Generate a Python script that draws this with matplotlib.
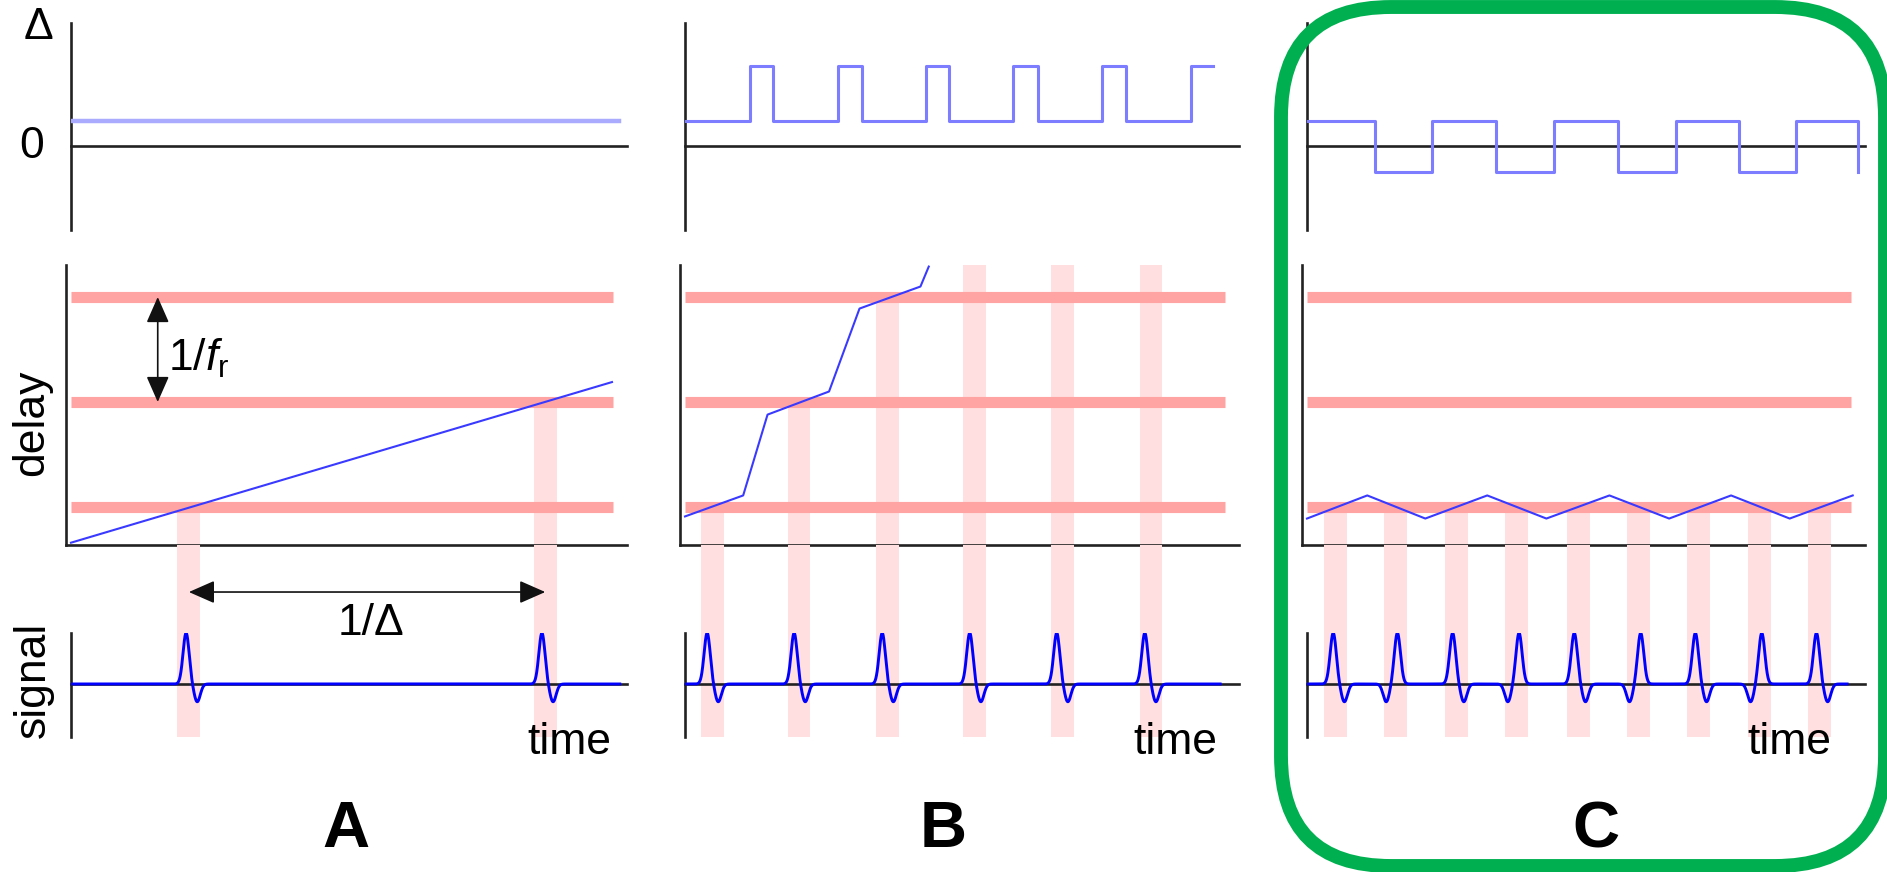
import numpy as np
import matplotlib
matplotlib.use("Agg")
import matplotlib.pyplot as plt
from matplotlib.patches import Rectangle, FancyBboxPatch, ArrowStyle
from matplotlib.transforms import blended_transform_factory

plt.rcParams['font.family'] = ['Liberation Sans', 'DejaVu Sans']
plt.rcParams['mathtext.fontset'] = 'custom'
plt.rcParams['mathtext.rm'] = 'Liberation Sans'
plt.rcParams['mathtext.it'] = 'Liberation Sans:italic'

# ---- data (time axis runs 0..100 in every column) ----
# detuning Delta(t)
delta_A_t = [0, 98.6]
delta_A = [1.0, 1.0]
delta_B_t = [0, 11.7, 15.9, 27.6, 31.9, 43.5, 47.7, 59.2, 63.7, 75.3, 79.6, 91.3, 95.3]
delta_B = [1, 3.2, 1, 3.2, 1, 3.2, 1, 3.2, 1, 3.2, 1, 3.2, 3.2]
delta_C_t = [0, 12.1, 22.4, 33.9, 44.2, 55.7, 66.1, 77.4, 87.7, 98.8]
delta_C = [1, -1.05, 1, -1.05, 1, -1.05, 1, -1.05, 1, -1.05]

# pulse-to-pulse delay (units of 1/f_r)
delay_A_t = [0, 97.3]
delay_A = [0.66, 2.19]
delay_B_t = [0, 10.5, 14.9, 26.0, 31.5, 42.5, 44.0]
delay_B = [0.91, 1.11, 1.88, 2.10, 2.89, 3.10, 3.29]
delay_C_t = [0, 10.8, 21.2, 32.3, 42.9, 54.2, 64.9, 76.0, 86.5, 97.8]
delay_C = [0.89, 1.11, 0.89, 1.11, 0.89, 1.11, 0.89, 1.11, 0.89, 1.11]
rep_levels = [1, 2, 3]

# sampling instants (vertical bands) and the delay level they start from
band_A_t = [21.2, 85.3]
band_A_from = [1, 2]
band_B_t = [4.9, 20.6, 36.6, 52.2, 68.2, 84.1]
band_B_from = [1, 2, 3, 3.31, 3.31, 3.31]
band_C_t = [5.1, 15.8, 26.8, 37.5, 48.6, 59.4, 70.2, 81.1, 91.9]
band_C_from = [1, 1, 1, 1, 1, 1, 1, 1, 1]

# signal pulses: peak times and polarity order
pulse_A_t = [20.7, 84.7]
pulse_A_dir = [1, 1]
pulse_B_t = [4.0, 19.7, 35.6, 51.4, 67.1, 83.0]
pulse_B_dir = [1, 1, 1, 1, 1, 1]
pulse_C_t = [4.7, 16.2, 26.1, 38.0, 47.9, 59.8, 69.6, 81.5, 91.3]
pulse_C_dir = [1, -1, 1, -1, 1, -1, 1, -1, 1]
signal_end = [98.7, 96.6, 96.8]

time_label_x = [0.82, 0.809, 0.789]
panel_labels = ['A', 'B', 'C']

cols = [
    dict(d_t=delta_A_t, d=delta_A, dl_t=delay_A_t, dl=delay_A, b_t=band_A_t, b_from=band_A_from,
         p_t=pulse_A_t, p_dir=pulse_A_dir, delta_color='#aaaaff', delta_lw=3.2),
    dict(d_t=delta_B_t, d=delta_B, dl_t=delay_B_t, dl=delay_B, b_t=band_B_t, b_from=band_B_from,
         p_t=pulse_B_t, p_dir=pulse_B_dir, delta_color='#7d7dff', delta_lw=2.2),
    dict(d_t=delta_C_t, d=delta_C, dl_t=delay_C_t, dl=delay_C, b_t=band_C_t, b_from=band_C_from,
         p_t=pulse_C_t, p_dir=pulse_C_dir, delta_color='#7d7dff', delta_lw=2.2),
]

# ---- layout (pixels) ----
W, H = 1887, 872
fig = plt.figure(figsize=(W / 100, H / 100), dpi=100)

col_left = [71, 685, 1307]
col_right = [627, 1239, 1865]
top_y = (23, 230)
delay_y = (265, 545)
sig_y = (633, 737)

DELAY_LIM = (0.638, 3.305)
TOP_LIM = (-3.36, 4.92)
SIG_LIM = (-1.04, 1.0)
band_w = 4.1

AXC = '#222222'
RED = '#ffa3a3'
PINK = '#ffdfdf'
FS = 32


def box(x0, y0, x1, y1):
    return [x0 / W, 1 - y1 / H, (x1 - x0) / W, (y1 - y0) / H]


def clean(ax, zero_axis=False):
    for s in ['top', 'right']:
        ax.spines[s].set_visible(False)
    for s in ['left', 'bottom']:
        ax.spines[s].set_color(AXC)
        ax.spines[s].set_linewidth(1.9)
    if zero_axis:
        ax.spines['bottom'].set_position(('data', 0))
    ax.set_xticks([])
    ax.set_yticks([])
    ax.patch.set_visible(False)


def pulse_train(t, peaks, dirs, sigma=0.55, lag=2.0, neg=0.35):
    s = np.zeros_like(t)
    for p, d in zip(peaks, dirs):
        s += np.exp(-0.5 * ((t - p) / sigma) ** 2)
        s -= neg * np.exp(-0.5 * ((t - p - d * lag) / sigma) ** 2)
    return s


for i, c in enumerate(cols):
    x0, x1 = col_left[i], col_right[i]
    unit = (x1 - x0) / 100.0

    # detuning panel
    ax_d = fig.add_axes(box(x0, top_y[0], x1, top_y[1]))
    clean(ax_d, zero_axis=True)
    ax_d.set_xlim(0, 100)
    ax_d.set_ylim(*TOP_LIM)
    ax_d.plot(c['d_t'], c['d'], drawstyle='steps-post', color=c['delta_color'],
              lw=c['delta_lw'], zorder=3)

    # delay panel (axis drawn a few pixels left of the others)
    ax_l = fig.add_axes(box(x0 - 5, delay_y[0], x1, delay_y[1]))
    clean(ax_l)
    ax_l.set_xlim(-5 / unit, 100)
    ax_l.set_ylim(*DELAY_LIM)
    ax_l.hlines(rep_levels, 0, 97.5, colors=RED, lw=8, zorder=2, capstyle='butt')
    for bt, bf in zip(c['b_t'], c['b_from']):
        ax_l.add_patch(Rectangle((bt - band_w / 2, DELAY_LIM[0]), band_w, bf - DELAY_LIM[0],
                                 facecolor=PINK, edgecolor='none', zorder=1))
    ax_l.plot(c['dl_t'], c['dl'], color='#3a3aff', lw=1.5, zorder=3, clip_on=False)

    # signal panel
    ax_s = fig.add_axes(box(x0, sig_y[0], x1, sig_y[1]))
    clean(ax_s, zero_axis=True)
    ax_s.set_xlim(0, 100)
    ax_s.set_ylim(*SIG_LIM)
    gap = (sig_y[0] - delay_y[1]) / (sig_y[1] - sig_y[0])
    for bt in c['b_t']:
        ax_s.axvspan(bt - band_w / 2, bt + band_w / 2, ymin=0, ymax=1 + gap,
                     facecolor=PINK, edgecolor='none', zorder=0, clip_on=False)
    t = np.linspace(0, signal_end[i], 4000)
    ax_s.plot(t, pulse_train(t, c['p_t'], c['p_dir']), color='#0000ff', lw=2.1, zorder=3)
    ax_s.text(time_label_x[i], -0.163, 'time', transform=ax_s.transAxes,
              fontsize=FS, ha='left', va='baseline')

    # panel letter
    fig.text([346, 943, 1596][i] / W, 1 - 847 / H, panel_labels[i], fontsize=47,
             fontweight='bold', ha='center', va='baseline')

    if i == 0:
        ax_d.text(-0.059, 0.976, '\u0394', transform=ax_d.transAxes, fontsize=FS,
                  ha='center', va='center')
        ax_d.text(-0.070, 0, '0', transform=blended_transform_factory(ax_d.transAxes, ax_d.transData),
                  fontsize=FS, ha='center', va='center')
        ax_l.text(-0.062, 0.436, 'delay', transform=ax_l.transAxes, fontsize=FS,
                  rotation=90, ha='center', va='center')
        ax_s.text(-0.068, 0.55, 'signal', transform=ax_s.transAxes, fontsize=FS,
                  rotation=90, ha='center', va='center')

        head = ArrowStyle('<|-|>', head_length=0.5, head_width=0.22)
        ax_l.annotate('', xy=(15.6, 3.0), xytext=(15.6, 2.0),
                      arrowprops=dict(arrowstyle=head, color='#111111', lw=1.2,
                                      mutation_scale=32, shrinkA=0, shrinkB=0), zorder=4)
        ax_l.text(17.4, 2.30, r'1/$f_{\mathrm{r}}$', fontsize=FS, ha='left', va='baseline')

        ax_s.annotate('', xy=(band_A_t[0], 1.394), xytext=(band_A_t[1], 1.394),
                      xycoords=('data', 'axes fraction'), textcoords=('data', 'axes fraction'),
                      arrowprops=dict(arrowstyle=head, color='#111111', lw=1.2,
                                      mutation_scale=32, shrinkA=0, shrinkB=0),
                      annotation_clip=False)
        ax_s.text(54.0, 1.087, '1/\u0394', transform=blended_transform_factory(ax_s.transData, ax_s.transAxes),
                  fontsize=FS, ha='center', va='center')

# rounded frame around column C
frame = FancyBboxPatch((12.81, 0.06), 6.04, 8.59, boxstyle='round,pad=0,rounding_size=1.1',
                       transform=fig.dpi_scale_trans, facecolor='none',
                       edgecolor='#00b050', linewidth=10)
fig.add_artist(frame)

fig.savefig('out.png', dpi=100)
